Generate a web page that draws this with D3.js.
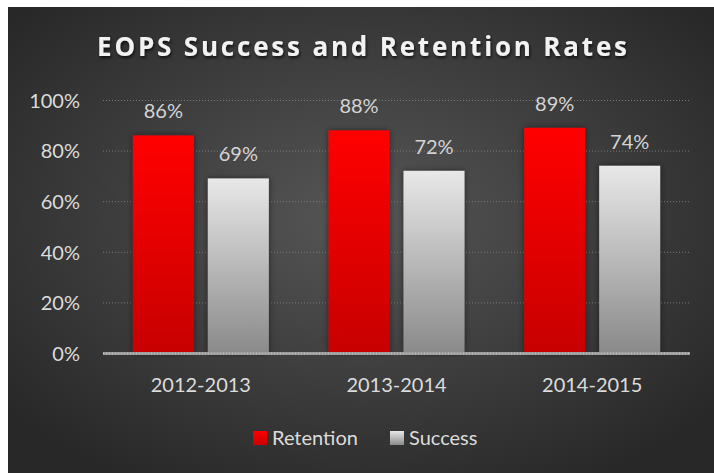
<!DOCTYPE html>
<html>
<head>
<meta charset="utf-8">
<script src="https://cdn.jsdelivr.net/npm/d3@7/dist/d3.min.js"></script>
<style>
  html, body { margin: 0; padding: 0; background: #ffffff; }
  svg { display: block; font-family: Lato, "Open Sans", sans-serif; }
</style>
</head>
<body>
<svg id="chart" width="714" height="473"></svg>
<script>
const categories = ["2012-2013", "2013-2014", "2014-2015"];
const seriesNames = ["Retention", "Success"];
const retention = [0.86, 0.88, 0.89];
const success = [0.69, 0.72, 0.74];
const yTicks = [0, 0.2, 0.4, 0.6, 0.8, 1.0];
const title = "EOPS Success and Retention Rates";

const seriesValues = [retention, success];
const data = categories.map((c, i) => ({
  category: c,
  values: seriesNames.map((s, j) => ({ series: s, value: seriesValues[j][i] }))
}));

const svg = d3.select("#chart");
const W = 714, H = 473;
const defs = svg.append("defs");

const bg = defs.append("radialGradient").attr("id", "bg")
  .attr("cx", "50%").attr("cy", "45%").attr("r", "65%");
bg.append("stop").attr("offset", "0%").attr("stop-color", "#565656");
bg.append("stop").attr("offset", "100%").attr("stop-color", "#282828");

const gRed = defs.append("linearGradient").attr("id", "gRed")
  .attr("x1", 0).attr("y1", 0).attr("x2", 0).attr("y2", 1);
gRed.append("stop").attr("offset", "0%").attr("stop-color", "#ff0000");
gRed.append("stop").attr("offset", "100%").attr("stop-color", "#c80000");

const gGray = defs.append("linearGradient").attr("id", "gGray")
  .attr("x1", 0).attr("y1", 0).attr("x2", 0).attr("y2", 1);
gGray.append("stop").attr("offset", "0%").attr("stop-color", "#e8e8e8");
gGray.append("stop").attr("offset", "100%").attr("stop-color", "#8a8a8a");

const shadow = defs.append("filter").attr("id", "shadow")
  .attr("x", "-20%").attr("y", "-30%").attr("width", "140%").attr("height", "160%");
shadow.append("feDropShadow").attr("dx", 1).attr("dy", 2).attr("stdDeviation", 1.5)
  .attr("flood-color", "#000").attr("flood-opacity", 0.7);

const barShadow = defs.append("filter").attr("id", "barShadow")
  .attr("x", "-20%").attr("y", "-20%").attr("width", "140%").attr("height", "140%");
barShadow.append("feDropShadow").attr("dx", 0).attr("dy", 0).attr("stdDeviation", 3)
  .attr("flood-color", "#000").attr("flood-opacity", 0.5);

svg.append("rect").attr("x", 8).attr("y", 7).attr("width", W - 8).attr("height", H - 7)
  .attr("fill", "url(#bg)");

const colors = { Retention: "url(#gRed)", Success: "url(#gGray)" };

const plot = { left: 103, right: 690, top: 100, bottom: 353 };
const y = d3.scaleLinear().domain([0, 1]).range([plot.bottom, plot.top]);
const x0 = d3.scaleBand().domain(categories).range([plot.left, plot.right]).padding(0);
const groupW = 136;
const x1 = d3.scaleBand().domain(seriesNames).range([0, groupW]).paddingInner(0.187).paddingOuter(0);
const groupOff = (x0.bandwidth() - groupW) / 2;

// gridlines
svg.append("g").selectAll("line").data(yTicks.filter(t => t > 0)).join("line")
  .attr("x1", plot.left).attr("x2", plot.right)
  .attr("y1", d => y(d) + 0.5).attr("y2", d => y(d) + 0.5)
  .attr("stroke", "#7a7a7a").attr("stroke-width", 1).attr("stroke-dasharray", "1,2");

// y axis labels
const yAxis = d3.axisLeft(y).tickValues(yTicks).tickFormat(d3.format(".0%")).tickSize(0).tickPadding(0);
const yg = svg.append("g").attr("transform", `translate(80,0)`).call(yAxis);
yg.select(".domain").remove();
yg.attr("font-family", null).attr("font-size", null);
yg.selectAll("text").attr("fill", "#dcdcdc").style("font-size", "20px")
  .style("font-family", "Lato, sans-serif").attr("dy", "0.36em");

// bars
const groups = svg.append("g").selectAll("g").data(data).join("g")
  .attr("transform", d => `translate(${x0(d.category) + groupOff},0)`);

groups.selectAll("rect").data(d => d.values).join("rect")
  .attr("x", d => x1(d.series)).attr("width", x1.bandwidth())
  .attr("y", d => y(d.value)).attr("height", d => y(0) - y(d.value))
  .attr("fill", d => colors[d.series]).attr("filter", "url(#barShadow)");

groups.selectAll("text.lbl").data(d => d.values).join("text").attr("class", "lbl")
  .attr("x", d => x1(d.series) + x1.bandwidth() / 2)
  .attr("y", d => y(d.value) - 17)
  .attr("text-anchor", "middle").attr("fill", "#d4d4d4").style("font-size", "20px")
  .text(d => d3.format(".0%")(d.value));

// zero axis line
svg.append("line").attr("x1", plot.left).attr("x2", plot.right)
  .attr("y1", plot.bottom + 0.5).attr("y2", plot.bottom + 0.5)
  .attr("stroke", "#9a9a9a").attr("stroke-width", 3);
svg.append("line").attr("x1", plot.left).attr("x2", plot.right)
  .attr("y1", plot.bottom + 0.5).attr("y2", plot.bottom + 0.5)
  .attr("stroke", "#c4c4c4").attr("stroke-width", 1.5).attr("stroke-dasharray", "1,2");

// x axis labels
const xAxis = d3.axisBottom(x0).tickSize(0).tickPadding(0);
const xg = svg.append("g").attr("transform", `translate(0,${plot.bottom})`).call(xAxis);
xg.select(".domain").remove();
xg.selectAll("text").attr("fill", "#dcdcdc").style("font-size", "20px")
  .style("font-family", "Lato, sans-serif").attr("dy", null).attr("y", 39);

// title
const t = svg.append("text").attr("x", 97).attr("y", 56)
  .attr("fill", "#f2f2f2")
  .style("font-size", "26px").style("font-weight", "bold")
  .style("font-family", "'Open Sans', sans-serif")
  .attr("filter", "url(#shadow)").text(title);
const baseLen = t.node().getComputedTextLength();
const ls = (530 - baseLen) / (title.length - 1);
t.style("letter-spacing", ls + "px");

// legend
const legend = svg.append("g");
const legendX = [253, 390];
seriesNames.forEach((s, i) => {
  const g = legend.append("g").attr("transform", `translate(${legendX[i]},431)`);
  g.append("rect").attr("width", 14).attr("height", 14).attr("fill", colors[s]);
  g.append("text").attr("x", 19).attr("y", 14).attr("fill", "#dcdcdc")
    .style("font-size", "20px").text(s);
});
</script>
</body>
</html>
